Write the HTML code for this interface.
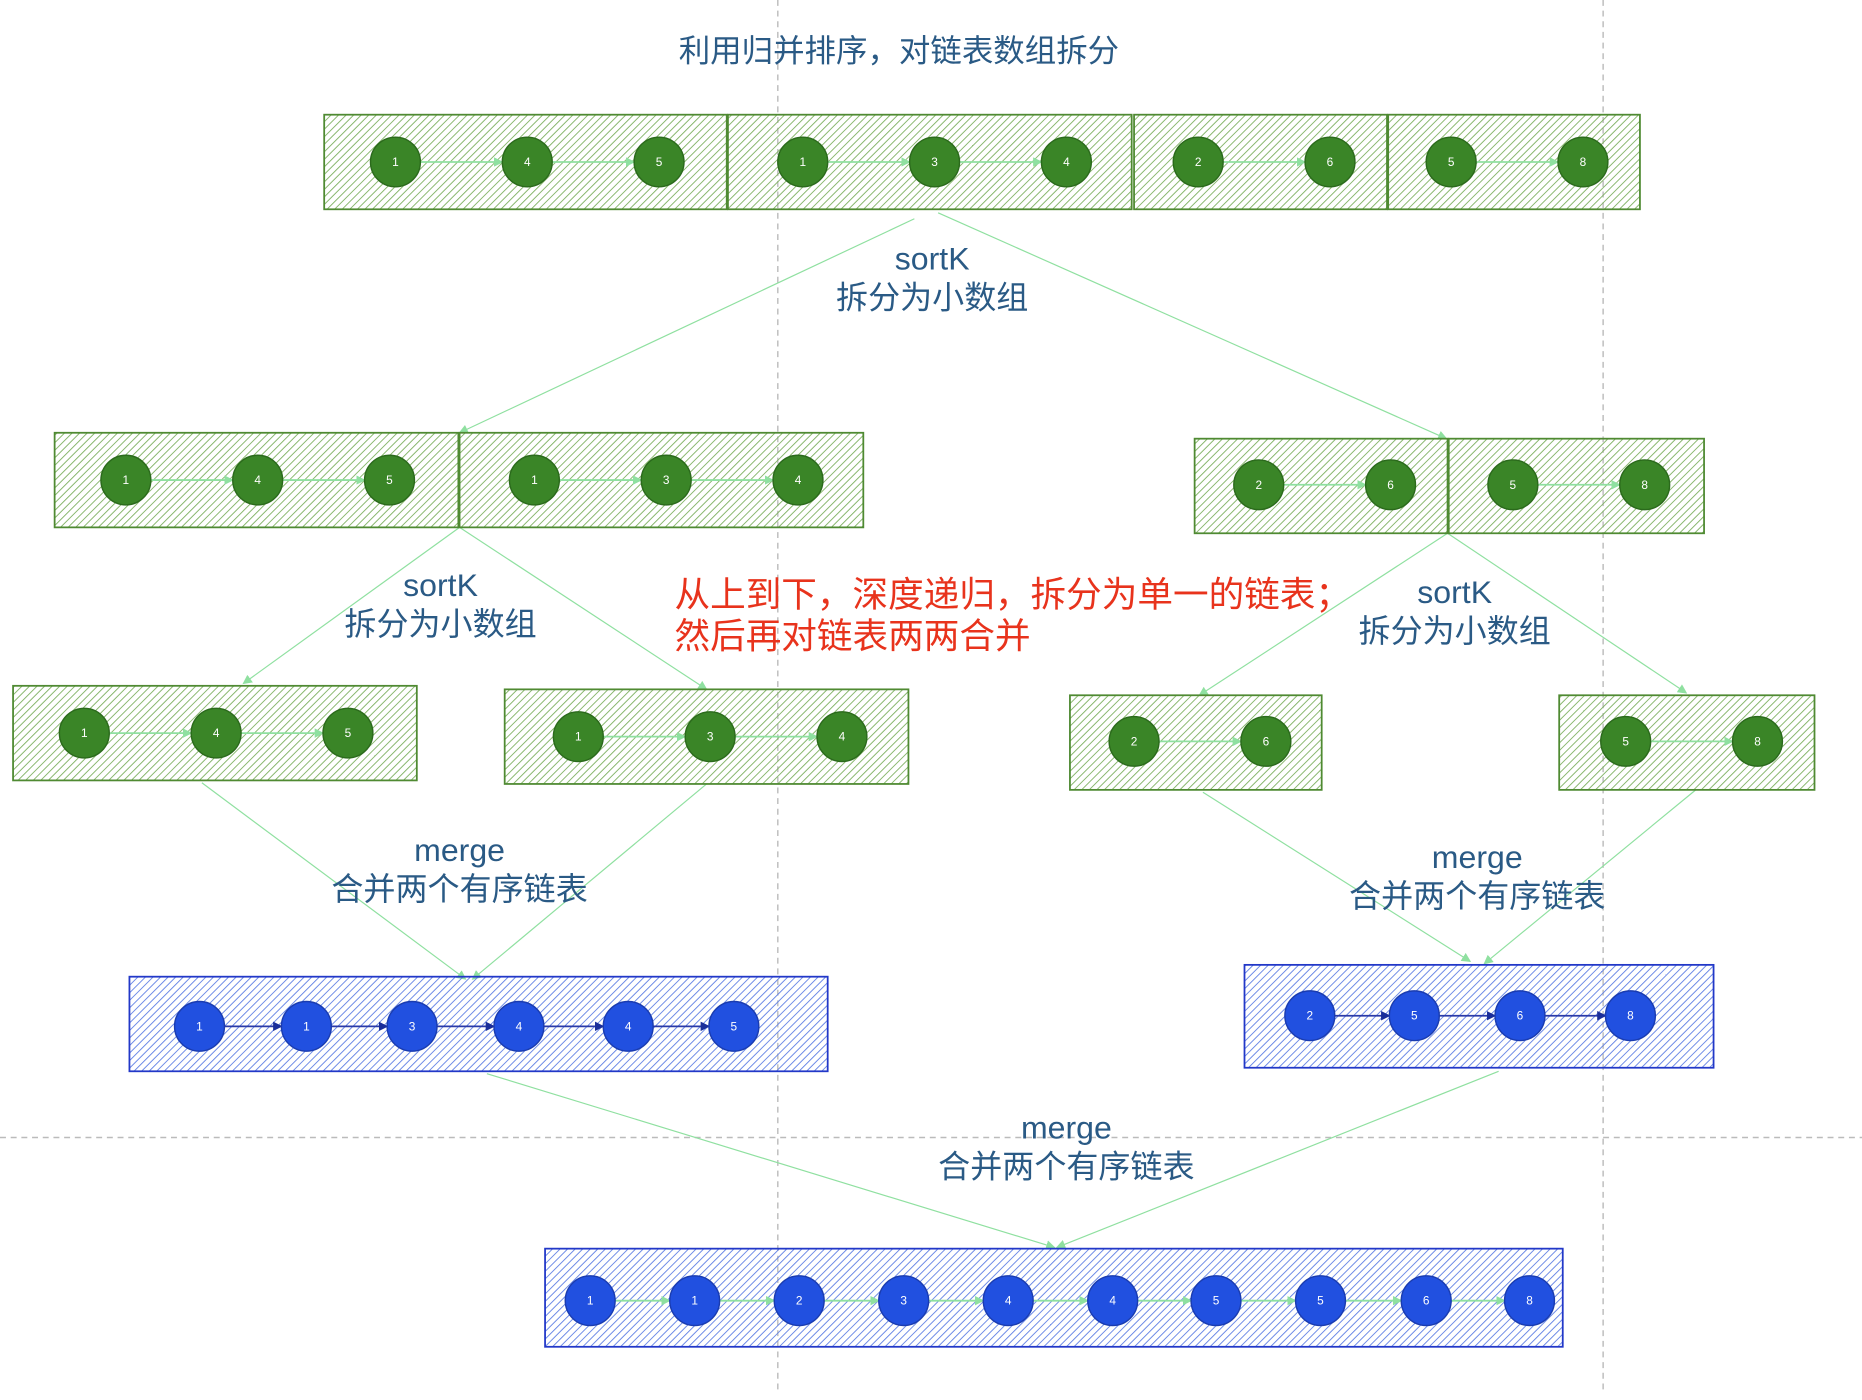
<!DOCTYPE html>
<html><head><meta charset="utf-8"><style>
html,body{margin:0;padding:0;background:#fff;}
svg{display:block;}
.t{font-family:"Liberation Sans","Noto Sans CJK SC",sans-serif;}
.g circle{fill:#3a8527;stroke:#2b6a1c;stroke-width:1.2;}
.b circle{fill:#2150e0;stroke:#1a3cb0;stroke-width:1.2;}
.n{font-family:"Liberation Sans",sans-serif;font-size:10px;fill:#fff;text-anchor:middle;dominant-baseline:central;}
.lbl{font-family:"Liberation Sans","Noto Sans CJK SC",sans-serif;font-size:27px;fill:#2a5a85;text-anchor:middle;}
</style></head><body>
<svg width="1862" height="1400" viewBox="0 0 1568 1184" preserveAspectRatio="none" xmlns="http://www.w3.org/2000/svg">
<defs>
<pattern id="hg" width="4.5" height="4.5" patternUnits="userSpaceOnUse" patternTransform="rotate(45)">
<line x1="0" y1="0" x2="0" y2="4.5" stroke="#7db060" stroke-width="1.5"/></pattern>
<pattern id="hb" width="4.5" height="4.5" patternUnits="userSpaceOnUse" patternTransform="rotate(45)">
<line x1="0" y1="0" x2="0" y2="4.5" stroke="#5f7fe4" stroke-width="1.5"/></pattern>
<marker id="ag" markerWidth="8" markerHeight="8" refX="7" refY="4" orient="auto" markerUnits="userSpaceOnUse"><path d="M0,0 L8,4 L0,8 z" fill="#8fe0a0"/></marker>
<marker id="an" markerWidth="8" markerHeight="8" refX="7" refY="4" orient="auto" markerUnits="userSpaceOnUse"><path d="M0,0 L8,4 L0,8 z" fill="#1a2e9a"/></marker>
</defs>

<g stroke="#bbb" stroke-width="1.2" stroke-dasharray="5,4" fill="none">
<line x1="655" y1="0" x2="655" y2="1175"/>
<line x1="1350" y1="0" x2="1350" y2="1175"/>
<line x1="0" y1="962" x2="1568" y2="962"/>
</g>

<g stroke="#8fe0a0" stroke-width="1" fill="none" marker-end="url(#ag)">
<line x1="770" y1="185" x2="387" y2="366"/>
<line x1="790" y1="180" x2="1218" y2="371"/>
<line x1="387" y1="446" x2="205" y2="578"/>
<line x1="387" y1="446" x2="595" y2="583"/>
<line x1="1219" y1="451" x2="1010" y2="588"/>
<line x1="1219" y1="451" x2="1420" y2="586"/>
<line x1="170" y1="662" x2="392" y2="828"/>
<line x1="595" y1="663" x2="398" y2="828"/>
<line x1="1013" y1="670" x2="1238" y2="813"/>
<line x1="1428" y1="668" x2="1250" y2="815"/>
<line x1="410" y1="908" x2="888" y2="1055"/>
<line x1="1262" y1="906" x2="890" y2="1055"/>
</g>

<g stroke="#4f8a32" stroke-width="1.5" fill="url(#hg)">
<rect x="273" y="97" width="339" height="80"/>
<rect x="613" y="97" width="340" height="80"/>
<rect x="955" y="97" width="213" height="80"/>
<rect x="1169" y="97" width="212" height="80"/>
<rect x="46" y="366" width="340" height="80"/>
<rect x="387" y="366" width="340" height="80"/>
<rect x="1006" y="371" width="213" height="80"/>
<rect x="1220" y="371" width="215" height="80"/>
<rect x="11" y="580" width="340" height="80"/>
<rect x="425" y="583" width="340" height="80"/>
<rect x="901" y="588" width="212" height="80"/>
<rect x="1313" y="588" width="215" height="80"/>
</g>
<g stroke="#2238c8" stroke-width="1.5" fill="url(#hb)">
<rect x="109" y="826" width="588" height="80"/>
<rect x="1048" y="816" width="395" height="87"/>
<rect x="459" y="1056" width="857" height="83"/>
</g>

<g stroke="#8fe0a0" stroke-width="1.5" fill="none" marker-end="url(#ag)">
<line x1="354" y1="137" x2="423" y2="137"/><line x1="465" y1="137" x2="534" y2="137"/>
<line x1="697" y1="137" x2="766" y2="137"/><line x1="808" y1="137" x2="877" y2="137"/>
<line x1="1030" y1="137" x2="1099" y2="137"/><line x1="1243" y1="137" x2="1312" y2="137"/>
<line x1="127" y1="406" x2="196" y2="406"/><line x1="238" y1="406" x2="307" y2="406"/>
<line x1="471" y1="406" x2="540" y2="406"/><line x1="582" y1="406" x2="651" y2="406"/>
<line x1="1081" y1="410" x2="1150" y2="410"/><line x1="1295" y1="410" x2="1364" y2="410"/>
<line x1="92" y1="620" x2="161" y2="620"/><line x1="203" y1="620" x2="272" y2="620"/>
<line x1="508" y1="623" x2="577" y2="623"/><line x1="619" y1="623" x2="688" y2="623"/>
<line x1="976" y1="627" x2="1045" y2="627"/><line x1="1390" y1="627" x2="1459" y2="627"/>
<line x1="518" y1="1100" x2="564" y2="1100"/><line x1="606" y1="1100" x2="652" y2="1100"/>
<line x1="694" y1="1100" x2="740" y2="1100"/><line x1="782" y1="1100" x2="828" y2="1100"/>
<line x1="870" y1="1100" x2="916" y2="1100"/><line x1="958" y1="1100" x2="1003" y2="1100"/>
<line x1="1045" y1="1100" x2="1091" y2="1100"/><line x1="1133" y1="1100" x2="1180" y2="1100"/>
<line x1="1222" y1="1100" x2="1267" y2="1100"/>
</g>
<g stroke="#2a3aa8" stroke-width="1.5" fill="none" marker-end="url(#an)">
<line x1="189" y1="868" x2="237" y2="868"/><line x1="279" y1="868" x2="326" y2="868"/>
<line x1="368" y1="868" x2="416" y2="868"/><line x1="458" y1="868" x2="508" y2="868"/>
<line x1="550" y1="868" x2="597" y2="868"/>
<line x1="1124" y1="859" x2="1170" y2="859"/><line x1="1212" y1="859" x2="1259" y2="859"/>
<line x1="1301" y1="859" x2="1352" y2="859"/>
</g>

<g class="g">
<circle cx="333" cy="137" r="21"/><circle cx="444" cy="137" r="21"/><circle cx="555" cy="137" r="21"/>
<circle cx="676" cy="137" r="21"/><circle cx="787" cy="137" r="21"/><circle cx="898" cy="137" r="21"/>
<circle cx="1009" cy="137" r="21"/><circle cx="1120" cy="137" r="21"/>
<circle cx="1222" cy="137" r="21"/><circle cx="1333" cy="137" r="21"/>
<circle cx="106" cy="406" r="21"/><circle cx="217" cy="406" r="21"/><circle cx="328" cy="406" r="21"/>
<circle cx="450" cy="406" r="21"/><circle cx="561" cy="406" r="21"/><circle cx="672" cy="406" r="21"/>
<circle cx="1060" cy="410" r="21"/><circle cx="1171" cy="410" r="21"/>
<circle cx="1274" cy="410" r="21"/><circle cx="1385" cy="410" r="21"/>
<circle cx="71" cy="620" r="21"/><circle cx="182" cy="620" r="21"/><circle cx="293" cy="620" r="21"/>
<circle cx="487" cy="623" r="21"/><circle cx="598" cy="623" r="21"/><circle cx="709" cy="623" r="21"/>
<circle cx="955" cy="627" r="21"/><circle cx="1066" cy="627" r="21"/>
<circle cx="1369" cy="627" r="21"/><circle cx="1480" cy="627" r="21"/>
</g>
<g class="b">
<circle cx="168" cy="868" r="21"/><circle cx="258" cy="868" r="21"/><circle cx="347" cy="868" r="21"/>
<circle cx="437" cy="868" r="21"/><circle cx="529" cy="868" r="21"/><circle cx="618" cy="868" r="21"/>
<circle cx="1103" cy="859" r="21"/><circle cx="1191" cy="859" r="21"/><circle cx="1280" cy="859" r="21"/><circle cx="1373" cy="859" r="21"/>
<circle cx="497" cy="1100" r="21"/><circle cx="585" cy="1100" r="21"/><circle cx="673" cy="1100" r="21"/>
<circle cx="761" cy="1100" r="21"/><circle cx="849" cy="1100" r="21"/><circle cx="937" cy="1100" r="21"/>
<circle cx="1024" cy="1100" r="21"/><circle cx="1112" cy="1100" r="21"/><circle cx="1201" cy="1100" r="21"/><circle cx="1288" cy="1100" r="21"/>
</g>
<g class="n">
<text x="333" y="137">1</text><text x="444" y="137">4</text><text x="555" y="137">5</text>
<text x="676" y="137">1</text><text x="787" y="137">3</text><text x="898" y="137">4</text>
<text x="1009" y="137">2</text><text x="1120" y="137">6</text>
<text x="1222" y="137">5</text><text x="1333" y="137">8</text>
<text x="106" y="406">1</text><text x="217" y="406">4</text><text x="328" y="406">5</text>
<text x="450" y="406">1</text><text x="561" y="406">3</text><text x="672" y="406">4</text>
<text x="1060" y="410">2</text><text x="1171" y="410">6</text>
<text x="1274" y="410">5</text><text x="1385" y="410">8</text>
<text x="71" y="620">1</text><text x="182" y="620">4</text><text x="293" y="620">5</text>
<text x="487" y="623">1</text><text x="598" y="623">3</text><text x="709" y="623">4</text>
<text x="955" y="627">2</text><text x="1066" y="627">6</text>
<text x="1369" y="627">5</text><text x="1480" y="627">8</text>
<text x="168" y="868">1</text><text x="258" y="868">1</text><text x="347" y="868">3</text>
<text x="437" y="868">4</text><text x="529" y="868">4</text><text x="618" y="868">5</text>
<text x="1103" y="859">2</text><text x="1191" y="859">5</text><text x="1280" y="859">6</text><text x="1373" y="859">8</text>
<text x="497" y="1100">1</text><text x="585" y="1100">1</text><text x="673" y="1100">2</text>
<text x="761" y="1100">3</text><text x="849" y="1100">4</text><text x="937" y="1100">4</text>
<text x="1024" y="1100">5</text><text x="1112" y="1100">5</text><text x="1201" y="1100">6</text><text x="1288" y="1100">8</text>
</g>

<text class="lbl" x="757" y="52" style="font-size:26.5px">利用归并排序，对链表数组拆分</text>
<text class="lbl" x="785" y="228">sortK</text>
<text class="lbl" x="785" y="261">拆分为小数组</text>
<text class="lbl" x="371" y="504">sortK</text>
<text class="lbl" x="371" y="537">拆分为小数组</text>
<text class="lbl" x="1225" y="510">sortK</text>
<text class="lbl" x="1225" y="543">拆分为小数组</text>
<text class="lbl" x="387" y="728">merge</text>
<text class="lbl" x="387" y="761">合并两个有序链表</text>
<text class="lbl" x="1244" y="734">merge</text>
<text class="lbl" x="1244" y="767">合并两个有序链表</text>
<text class="lbl" x="898" y="963">merge</text>
<text class="lbl" x="898" y="996">合并两个有序链表</text>
<text class="t" x="568" y="513" style="font-size:30px;fill:#e8331c">从上到下，深度递归，拆分为单一的链表；</text>
<text class="t" x="568" y="548" style="font-size:30px;fill:#e8331c">然后再对链表两两合并</text>
</svg>
</body></html>
